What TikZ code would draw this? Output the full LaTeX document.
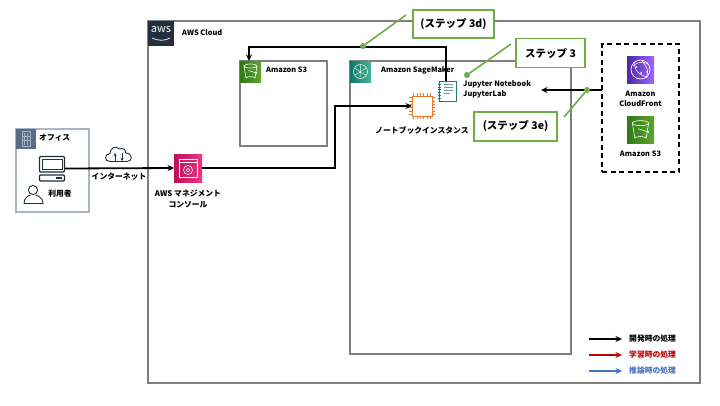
\documentclass[tikz,border=0pt]{standalone}
\usepackage{fontspec}
\setmainfont{Noto Sans CJK JP}
\usetikzlibrary{arrows.meta,shadings}
\definecolor{cloudgrey}{HTML}{7F7F7F}
\definecolor{officeline}{HTML}{A9B4C4}
\definecolor{slate}{HTML}{5A6B86}
\definecolor{navy}{HTML}{232F3E}
\definecolor{callgreen}{HTML}{70AD47}
\definecolor{redflow}{HTML}{C00000}
\definecolor{blueflow}{HTML}{4472C4}
\definecolor{chiporange}{HTML}{E8792B}
\definecolor{noteteal}{HTML}{1F7F6E}
\definecolor{pinkd}{HTML}{BD0F5C}
\definecolor{pinkl}{HTML}{F0357F}
\definecolor{greend}{HTML}{2F7A17}
\definecolor{greenl}{HTML}{5CA52E}
\definecolor{teald}{HTML}{0F7766}
\definecolor{teall}{HTML}{45B59A}
\definecolor{purpled}{HTML}{4D27A8}
\definecolor{purplel}{HTML}{A166FF}
\tikzset{
  panel/.style={draw=cloudgrey,line width=1.5pt},
  tile/.style={minimum size=#1,inner sep=0pt,outer sep=0pt},
  greenshade/.style={shading=axis,shading angle=45,left color=greend,right color=greenl},
  tealshade/.style={shading=axis,shading angle=45,left color=teald,right color=teall},
  purpleshade/.style={shading=axis,shading angle=45,left color=purpled,right color=purplel},
  pinkshade/.style={shading=axis,shading angle=45,left color=pinkd,right color=pinkl},
  label/.style={font=\bfseries\fontsize{7.8pt}{10.8pt}\selectfont,text=black,inner sep=0pt,align=center},
  latinlabel/.style={label,font=\bfseries\fontsize{7.4pt}{9.6pt}\selectfont},
  calloutbox/.style={draw=callgreen,line width=1.8pt,fill=white,inner sep=0pt,font=\bfseries\fontsize{10.5pt}{12pt}\selectfont},
  leader/.style={draw=callgreen,line width=1.6pt},
  leaderdot/.style={fill=callgreen,circle,inner sep=0pt,minimum size=6pt},
  flow/.style={draw=black,line width=1.8pt,-{Stealth[length=6.5pt,width=6pt]}},
  iconline/.style={draw=navy,line width=1.1pt},
  whiteline/.style={draw=white,line width=.6pt},
  bucketicon/.pic={
    \draw[whiteline] (-6.5,-5.5) arc[start angle=180,end angle=360,x radius=6.5,y radius=2]
      arc[start angle=0,end angle=180,x radius=6.5,y radius=2] -- (-4.5,6.5)
      arc[start angle=180,end angle=360,x radius=4.5,y radius=1.3] -- (6.5,-5.5);
    \draw[whiteline] (-2,-1) -- (6,1.5);
    \fill[white] (6,1.5) circle (.9);
  }
}
\begin{document}
\begin{tikzpicture}[x=1pt,y=-1pt]
\useasboundingbox (0,0) rectangle (720,405);
\fill[white] (0,0) rectangle (720,405);
% containers
\node[panel,draw=officeline,minimum width=73pt,minimum height=83pt,inner sep=0pt] (office) at (52.5,170.5) {};
\node[panel,minimum width=552pt,minimum height=362pt,inner sep=0pt] (cloud) at (424,202) {};
\node[panel,minimum width=87pt,minimum height=85pt,inner sep=0pt] (s3box) at (283.5,103.5) {};
\node[panel,minimum width=221pt,minimum height=293pt,inner sep=0pt] (smbox) at (460.5,207.5) {};
\node[draw=black,line width=1.6pt,dash pattern=on 5pt off 3.5pt,minimum width=77pt,minimum height=128pt,inner sep=0pt] (edge) at (640.5,108) {};
% icon tiles
\node[tile=19.5pt,fill=slate] (officetile) at (25.75,138.75) {};
\node[tile=26pt,fill=navy,minimum height=25pt] (awstile) at (161,33.5) {};
\node[tile=28pt,pinkshade] (console) at (188,168) {};
\node[tile=21pt,greenshade] (s3tile) at (250.5,71.5) {};
\node[tile=21pt,tealshade] (smtile) at (360.5,71.5) {};
\node[tile=27pt,purpleshade] (cftile) at (640.5,69.5) {};
\node[tile=27pt,greenshade] (s3edge) at (640.5,130) {};
\node[tile=26pt,inner sep=0pt,minimum height=25pt] (pc) at (52,168.5) {};
\node[tile=20pt] (chip) at (422,106) {};
\node[tile=17pt,minimum height=20pt,draw=noteteal,line width=.9pt,fill=white] (nb) at (447.5,91) {};
% connectors
\coordinate (risebend) at (335,137);
\coordinate (topbend) at (300,47);
\draw[flow] (pc.east) -- (console.west);
\draw[flow,line join=miter] (console.east) -| (risebend) |- (chip.west);
\draw[flow,line join=miter] ([xshift=-1.5pt]nb.north) |- (topbend) -| ([xshift=-1.5pt]s3tile.north);
\coordinate (edgeport) at (602,90);
\coordinate (jupyterport) at (541,90);
\draw[flow] (edgeport) -- (jupyterport);
% office icon
\draw[officeline,line width=.5pt] (22,131.5) rectangle (30,146) (24.5,133) -- (24.5,145) (27.5,133) -- (27.5,145) (22,136) -- (30,136) (22,140) -- (30,140);
\draw[iconline,rounded corners=1pt] (39.5,156.5) rectangle (64.5,172);
\draw[draw=navy,line width=.7pt] (42,159) rectangle (62,169.5);
\draw[iconline,rounded corners=1pt] (39.5,175) rectangle (64.5,181);
\draw[navy,line width=1.2pt] (56,178) -- (62,178);
\draw[draw=navy,line width=.9pt] (33,190) circle (4.6);
\draw[draw=navy,line width=.9pt] (24,203.5) .. controls (24,197) and (29,195.5) .. (30.5,195) (35.5,195) .. controls (37,195.5) and (43,197) .. (43,203.5) -- (24,203.5);
% cloud icon
\node[tile=26pt,minimum height=15pt] (net) at (119,154.5) {};
\draw[draw=navy,line width=.9pt] (110,161.5) .. controls (104,161.5) and (104,154) .. (110,153.5)
  .. controls (110,148) and (116,145) .. (119.5,149) .. controls (123,147) and (126,150) .. (125.5,153)
  .. controls (133,153) and (133,161.5) .. (127,161.5) -- (110,161.5);
\draw[navy,line width=.8pt,-{Stealth[length=3pt,width=3pt]}] (115,161) -- (115,153);
\draw[navy,line width=.8pt,-{Stealth[length=3pt,width=3pt]}] (122,153) -- (122,161);
% aws logo
\node[font=\fontsize{11pt}{11pt}\selectfont,text=white,inner sep=0pt] (awsword) at (161,30) {aws};
\draw[white,line width=.7pt] (152,38) .. controls (158,41) and (165,41) .. (170,38);
% console icon
\draw[white,line width=.6pt] (179,159) rectangle (197,177) (179,162.5) -- (197,162.5);
\draw[white,line width=.6pt] (188,170) circle (4.5) (188,170) circle (1.7);
% bucket icons
\pic[transform shape] at (250.5,71.5) {bucketicon};
\pic[transform shape,scale=1.25] at (640.5,130) {bucketicon};
% sagemaker icon
\draw[white,line width=.5pt] (360.5,71.5) circle (7);
\draw[white,line width=.4pt] (355,68) -- (360,72) -- (366,68) (355,75) -- (360,72) -- (366,75) (360.5,65) -- (360,78);
% cloudfront icon
\draw[white,line width=.7pt] (640.5,69.5) circle (9.5);
\draw[white,line width=.5pt] (635,62) .. controls (633,70) and (640,76) .. (648,77) (633,66) .. controls (640,60) and (646,62) .. (649,65) (642,61) .. controls (648,68) and (649,72) .. (646,78);
\fill[white] (636,67) circle (1) (647,72) circle (1) (641,73) circle (1);
% chip icon
\draw[chiporange,line width=1pt,fill=white] (412,96) rectangle (432,116);
\foreach \t in {0,...,5}{
  \draw[chiporange,line width=.7pt] (413.5+3.4*\t,93) -- (413.5+3.4*\t,96) (413.5+3.4*\t,116) -- (413.5+3.4*\t,119)
    (409,97.5+3.4*\t) -- (412,97.5+3.4*\t) (432,97.5+3.4*\t) -- (435,97.5+3.4*\t);
}
% notebook icon
\foreach \t in {0,...,5}{
  \draw[noteteal,line width=.7pt] (437.5,84+2.9*\t) -- (441,84+2.9*\t);
}
\draw[noteteal!70,line width=1pt] (444,84) -- (453,84) (444,87) -- (453,87) (444,90) -- (453,90) (444,93) -- (450,93);
% labels
\node[label,anchor=west] (officelabel) at (39,138) {オフィス};
\node[label] (userlabel) at (60,194) {利用者};
\node[label] (netlabel) at (119,177) {インターネット};
\node[latinlabel,anchor=west] (cloudlabel) at (182,33) {AWS Cloud};
\node[latinlabel,anchor=west] (s3label) at (266,70) {Amazon S3};
\node[latinlabel,anchor=west] (smlabel) at (381,70) {Amazon SageMaker};
\node[latinlabel,align=left,anchor=west] (jupyter) at (463,89.5) {Jupyter Notebook\\JupyterLab};
\node[label] (consolelabel) at (188,199) {AWS マネジメント\\コンソール};
\node[label] (chiplabel) at (422,130) {ノートブックインスタンス};
\node[latinlabel] (cflabel) at (640.5,98.5) {Amazon\\CloudFront};
\node[latinlabel] (s3edgelabel) at (640.5,154) {Amazon S3};
% callouts
\node[calloutbox,minimum width=81pt,minimum height=28pt] (c3d) at (453.5,24) {(ステップ 3d)};
\node[calloutbox,minimum width=69pt,minimum height=29pt] (c3) at (550.5,53) {ステップ 3};
\node[calloutbox,minimum width=83pt,minimum height=29pt] (c3e) at (515.5,126.5) {(ステップ 3e)};
\coordinate (d3dstart) at (406,15);
\node[leaderdot] (d3dend) at (363,46) {};
\coordinate (d3start) at (511,44);
\node[leaderdot] (d3end) at (467,75) {};
\coordinate (d3estart) at (564,117);
\node[leaderdot] (d3eend) at (587,90) {};
\draw[leader] (d3dstart) -- (d3dend);
\draw[leader] (d3start) -- (d3end);
\draw[leader] (d3estart) -- (d3eend);
% legend
\node[label,anchor=west,text=black] (lega) at (629,339) {開発時の処理};
\node[label,anchor=west,text=redflow] (legb) at (629,355) {学習時の処理};
\node[label,anchor=west,text=blueflow] (legc) at (629,371) {推論時の処理};
\coordinate (lega0) at (589,339);
\coordinate (legb0) at (589,355);
\coordinate (legc0) at (589,371);
\draw[flow] (lega0) -- ([xshift=-7pt]lega.west);
\draw[flow,draw=redflow] (legb0) -- ([xshift=-7pt]legb.west);
\draw[flow,draw=blueflow] (legc0) -- ([xshift=-7pt]legc.west);
\end{tikzpicture}
\end{document}
